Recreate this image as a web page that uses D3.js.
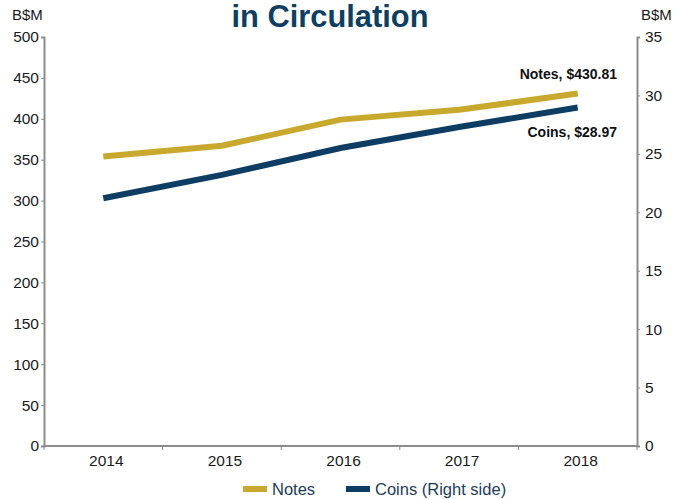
<!DOCTYPE html>
<html><head><meta charset="utf-8">
<script src="https://cdn.jsdelivr.net/npm/d3@7"></script>
<style>body{margin:0;background:#fff}svg{display:block}text{font-family:"Liberation Sans",Arial,sans-serif}</style>
</head><body><svg id="c" width="689" height="499"></svg>
<script>
const years = ["2014","2015","2016","2017","2018"];
const notes = [354, 367, 399, 411, 430.81];
const coins = [21.2, 23.2, 25.5, 27.3, 28.97];
const leftTicks = [0,50,100,150,200,250,300,350,400,450,500];
const rightTicks = [0,5,10,15,20,25,30,35];
const title = "in Circulation";

const svg = d3.select("#c");
const L = 44, R = 637, T = 37, B = 446;
const x = d3.scaleBand().domain(years).range([L, R]);
const yL = d3.scaleLinear().domain([0, 500]).range([B, T]);
const yR = d3.scaleLinear().domain([0, 35]).range([B, T]);
const axisColor = "#8c8c8c", txt = "#1a1a1a";

svg.append("text").attr("x", 330).attr("y", 27).attr("text-anchor", "middle")
  .attr("font-size", 31).attr("font-weight", "bold").attr("fill", "#0e3f63")
  .attr("textLength", 197).attr("lengthAdjust", "spacingAndGlyphs").text(title);
svg.append("text").attr("x", 12).attr("y", 20).attr("font-size", 15).attr("fill", txt).text("B$M");
svg.append("text").attr("x", 641).attr("y", 20).attr("font-size", 15).attr("fill", txt).text("B$M");

function styleAxis(g){
  g.select(".domain").attr("stroke", axisColor).attr("stroke-width", 2);
  g.selectAll(".tick line").attr("stroke", axisColor).attr("stroke-width", 1);
  g.selectAll(".tick text").attr("font-size", 15.5).attr("fill", txt).attr("font-family", "Liberation Sans, Arial, sans-serif");
}
const gl = svg.append("g").attr("transform", `translate(${L},0)`)
  .call(d3.axisLeft(yL).tickValues(leftTicks).tickSize(3).tickSizeOuter(3).tickPadding(2));
styleAxis(gl);
const gr = svg.append("g").attr("transform", `translate(${R},0)`)
  .call(d3.axisRight(yR).tickValues(rightTicks).tickSize(3).tickSizeOuter(3).tickPadding(5));
styleAxis(gr);
const gb = svg.append("g").attr("transform", `translate(0,${B})`)
  .call(d3.axisBottom(x).tickSize(0).tickPadding(9));
styleAxis(gb);
gb.select(".domain").attr("d", `M${L},0H${R}`);
gb.selectAll(".tick text").attr("dx", 3);
years.concat(["end"]).forEach((d, i) => {
  const xx = L + i * x.step();
  gb.append("line").attr("x1", xx).attr("x2", xx).attr("y1", 0).attr("y2", 4).attr("stroke", axisColor);
});

const cx = d => x(d) + x.bandwidth() / 2;
svg.append("path").datum(notes)
  .attr("d", d3.line().x((d, i) => cx(years[i])).y(d => yL(d)))
  .attr("fill", "none").attr("stroke", "#c9a82e").attr("stroke-width", 6);
svg.append("path").datum(coins)
  .attr("d", d3.line().x((d, i) => cx(years[i])).y(d => yR(d)))
  .attr("fill", "none").attr("stroke", "#0e3d63").attr("stroke-width", 6);

svg.append("text").attr("x", 617).attr("y", yL(notes[4]) - 15).attr("text-anchor", "end")
  .attr("font-size", 14).attr("font-weight", "bold").attr("fill", "#111").text(`Notes, $${notes[4].toFixed(2)}`);
svg.append("text").attr("x", 617).attr("y", yR(coins[4]) + 30).attr("text-anchor", "end")
  .attr("font-size", 14).attr("font-weight", "bold").attr("fill", "#111").text(`Coins, $${coins[4].toFixed(2)}`);

const leg = [{n:"Notes", c:"#c9a82e", x:243}, {n:"Coins (Right side)", c:"#0e3d63", x:346}];
leg.forEach(l => {
  svg.append("rect").attr("x", l.x).attr("y", 486).attr("width", 24).attr("height", 6).attr("fill", l.c);
  svg.append("text").attr("x", l.x + 29).attr("y", 495).attr("font-size", 16.5).attr("fill", "#1d3c5a").text(l.n);
});
</script></body></html>
